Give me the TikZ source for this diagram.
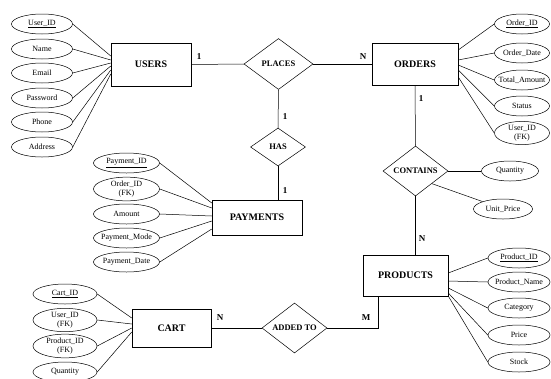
\documentclass[tikz,border=0pt]{standalone}
\usepackage{fontspec}
\setmainfont{Liberation Serif}
\usetikzlibrary{shapes.geometric}

\begin{document}
\begin{tikzpicture}[x=1pt, y=-1pt, line width=0.5pt,
    entity/.style={draw, rectangle, inner sep=0pt, font=\fontsize{10}{12}\selectfont\bfseries},
    relation/.style={draw, diamond, aspect=1.3, inner sep=0pt, font=\fontsize{8.5}{10}\selectfont\bfseries},
    attrib/.style={draw, ellipse, inner xsep=-4pt, inner ysep=0pt, minimum height=20pt, align=center, font=\fontsize{8}{9.5}\selectfont},
    card/.style={inner sep=0pt, font=\fontsize{9}{11}\selectfont\bfseries}]
        \useasboundingbox (0,0) rectangle (551,378);

        \node[entity, minimum width=80pt, minimum height=43pt] (users) at (151,64.5) {USERS};
        \node[entity, minimum width=86pt, minimum height=42pt] (orders) at (415,64) {ORDERS};
        \node[entity, minimum width=90pt, minimum height=35pt] (payments) at (257,217.5) {PAYMENTS};
        \node[entity, minimum width=85pt, minimum height=41pt] (products) at (405.5,275.5) {PRODUCTS};
        \node[entity, minimum width=79pt, minimum height=38pt] (cart) at (171.5,328) {CART};

        \node[relation, minimum width=69pt, minimum height=51pt] (places) at (278.5,64) {PLACES};
        \node[relation, minimum width=55pt, minimum height=38pt] (has) at (278,147) {HAS};
        \node[relation, minimum width=65pt, minimum height=50pt] (contains) at (415.5,171) {CONTAINS};
        \node[relation, minimum width=65pt, minimum height=50pt] (addedto) at (294.5,328) {ADDED TO};

        \node[attrib, minimum width=61pt] (uid) at (42,24) {\underline{User\_ID}};
        \node[attrib, minimum width=61pt] (uname) at (42,49) {Name};
        \node[attrib, minimum width=61pt] (uemail) at (42,73) {Email};
        \node[attrib, minimum width=61pt] (upass) at (42,98) {Password};
        \node[attrib, minimum width=61pt] (uphone) at (42,122) {Phone};
        \node[attrib, minimum width=61pt] (uaddr) at (42,147) {Address};

        \node[attrib, minimum width=55pt] (oid) at (522,24) {\underline{Order\_ID}};
        \node[attrib, minimum width=55pt] (odate) at (522,53) {Order\_Date};
        \node[attrib, minimum width=55pt] (oamount) at (522,80) {Total\_Amount};
        \node[attrib, minimum width=55pt] (ostatus) at (522,106) {Status};
        \node[attrib, minimum width=55pt] (ouser) at (522,133) {User\_ID\\(FK)};

        \node[attrib, minimum width=66pt] (pid) at (126.5,163) {\underline{Payment\_ID}};
        \node[attrib, minimum width=66pt] (porder) at (126.5,189) {Order\_ID\\(FK)};
        \node[attrib, minimum width=66pt] (pamount) at (126.5,214) {Amount};
        \node[attrib, minimum width=66pt] (pmode) at (126.5,238) {Payment\_Mode};
        \node[attrib, minimum width=66pt] (pdate) at (126.5,262) {Payment\_Date};

        \node[attrib, minimum width=64pt] (cid) at (65,294) {\underline{Cart\_ID}};
        \node[attrib, minimum width=64pt] (cuser) at (65,320) {User\_ID\\(FK)};
        \node[attrib, minimum width=64pt] (cprod) at (65,346) {Product\_ID\\(FK)};
        \node[attrib, minimum width=64pt] (cqty) at (65,372) {Quantity};

        \node[attrib, minimum width=62pt] (prid) at (519,258) {\underline{Product\_ID}};
        \node[attrib, minimum width=62pt] (prname) at (519,282) {Product\_Name};
        \node[attrib, minimum width=62pt] (prcat) at (519,308) {Category};
        \node[attrib, minimum width=62pt] (prprice) at (519,335) {Price};
        \node[attrib, minimum width=62pt] (prstock) at (519,362) {Stock};

        \node[attrib, minimum width=57pt] (qty) at (510,171) {Quantity};
        \node[attrib, minimum width=59pt] (uprice) at (503,209) {Unit\_Price};

        \node[card] (lusers) at (199,57) {1};
        \node[card] (lorders) at (363,57) {N};
        \node[card] (lplaces) at (285,117) {1};
        \node[card] (lpay) at (285,191) {1};
        \node[card] (lcont) at (421,99) {1};
        \node[card] (lprod) at (422,239) {N};
        \node[card] (lprodm) at (366,318) {M};
        \node[card] (lcart) at (220,318) {N};

        \draw (users.east) -- (places.west);
        \draw (places.east) -- (orders.west);
        \draw (places.south) -- (has.north);
        \draw (has.south) -- (has.south |- payments.north);
        \draw (orders.south) -- (contains.north);
        \draw (contains.south) -- (contains.south |- products.north);
        \draw (contains.east) -- (qty.west);
        \draw (contains.south east) -- (uprice.160);
        \draw ([xshift=15pt]products.south west) |- (addedto.east);
        \draw (cart.east) -- (addedto.west);

        \foreach \a/\y in {uid/56, uname/60, uemail/63, upass/66, uphone/70, uaddr/74}
          \draw (\a.east) -- (users.west |- 0,\y);
        \foreach \a/\y in {oid/50, odate/60, oamount/65, ostatus/70, ouser/77}
          \draw (\a.west) -- (orders.east |- 0,\y);
        \foreach \a/\y in {pid/203, porder/208, pamount/216, pmode/221, pdate/229}
          \draw (\a.east) -- (payments.west |- 0,\y);
        \foreach \a/\y in {cid/318, cuser/324, cprod/328, cqty/332}
          \draw (\a.east) -- (cart.west |- 0,\y);
        \foreach \a/\y in {prid/273, prname/281, prcat/288, prprice/293, prstock/296}
          \draw (\a.west) -- (products.east |- 0,\y);
      \end{tikzpicture}
\end{document}
